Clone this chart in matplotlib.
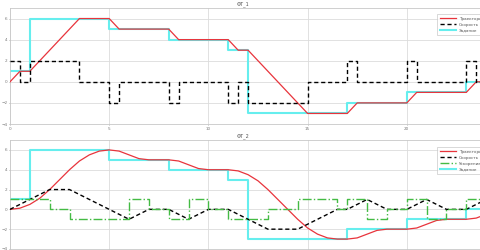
import numpy as np
import matplotlib
matplotlib.use('Agg')
import matplotlib.pyplot as plt

# ---- data ----
# ФТ_1
t1_pos = [0, 0.5, 1, 3.5, 5, 5.5, 8, 8.5, 11, 11.5, 12, 15, 17, 17.5, 20, 20.5, 23, 23.5, 25]
pos1 = [0, 1, 1, 6, 6, 5, 5, 4, 4, 3, 3, -3, -3, -2, -2, -1, -1, 0, 0]
t1_vel = [0, 0.5, 1, 3.5, 5, 5.5, 8, 8.5, 11, 11.5, 12, 15, 17, 17.5, 20, 20.5, 23, 23.5, 25]
vel1 = [2, 0, 2, 0, -2, 0, -2, 0, -2, 0, -2, 0, 2, 0, 2, 0, 2, 0, 0]

# target (same on both panels)
t_ref = [0, 1, 5, 8, 11, 12, 17, 20, 23, 25]
ref = [1, 6, 5, 4, 3, -3, -2, -1, 0, 0]

# ФТ_2
t2_pos = [0, 0.5, 1, 1.5, 2, 2.5, 3, 3.5, 4, 4.5, 5, 5.5, 6, 6.5, 7, 7.5, 8, 8.5,
          9, 9.5, 10, 10.5, 11, 11.5, 12, 12.5, 13, 13.5, 14, 14.5, 15, 15.5, 16,
          16.5, 17, 17.5, 18, 18.5, 19, 19.5, 20, 20.5, 21, 21.5, 22, 22.5, 23,
          23.5, 24]
pos2 = [0, 0.12, 0.5, 1.12, 2, 3, 4, 4.88, 5.5, 5.88, 6, 5.88, 5.5, 5.12, 5, 5, 5, 4.88,
        4.5, 4.12, 4, 4, 4, 3.88, 3.5, 2.88, 2, 1, 0, -1, -1.88, -2.5, -2.88,
        -3, -3, -2.88, -2.5, -2.12, -2, -2, -2, -1.88, -1.5, -1.12, -1, -1, -1,
        -0.88, -0.5]
t2_vel = [0, 2, 3, 6, 7, 8, 9, 10, 11, 13, 14.5, 16.5, 17, 18, 19, 20, 21, 22, 23, 24]
vel2 = [0, 2, 2, -1, 0, 0, -1, 0, 0, -2, -2, 0, 0, 1, 0, 0, 1, 0, 0, 1]
t2_acc = [0, 2, 3, 6, 7, 8, 9, 10, 11, 13, 14.5, 16.5, 17, 18, 19, 20, 21, 22, 23, 24, 25]
acc2 = [1, 0, -1, 1, 0, -1, 1, 0, -1, 0, 1, 0, 1, -1, 0, 1, -1, 0, 1, -1, -1]

c_red = '#e8343c'
c_cyan = '#66eeee'
c_green = '#44bb44'
fs = 3

fig = plt.figure(figsize=(4.8, 2.5), dpi=100)
ax1 = fig.add_axes([10/480, 1-124/250, 496/480, 116/250])
ax2 = fig.add_axes([10/480, 1-249/250, 496/480, 109/250])

ax1.plot(t1_pos, pos1, color=c_red, lw=0.9, label='Траектория движения', zorder=3)
ax1.plot(t1_vel, vel1, color='k', lw=1.0, dashes=(3, 2), drawstyle='steps-post',
         label='Скорость', zorder=3)
ax1.plot(t_ref, ref, color=c_cyan, lw=1.5, drawstyle='steps-post', label='Задание', zorder=2)

ax2.plot(t2_pos, pos2, color=c_red, lw=0.9, label='Траектория движения', zorder=3)
ax2.plot(t2_vel, vel2, color='k', lw=1.0, dashes=(3, 2), label='Скорость', zorder=3)
ax2.plot(t2_acc, acc2, color=c_green, lw=1.0, linestyle='-.', drawstyle='steps-post',
         label='Ускорение', zorder=3)
ax2.plot(t_ref, ref, color=c_cyan, lw=1.5, drawstyle='steps-post', label='Задание', zorder=2)

for ax, title, ly in [(ax1, 'ФТ_1', 0.966), (ax2, 'ФТ_2', 0.954)]:
    ax.set_xlim(0, 25)
    ax.set_ylim(-4, 7)
    ax.set_xticks([0, 5, 10, 15, 20, 25])
    ax.set_yticks([-4, -2, 0, 2, 4, 6])
    ax.grid(True, color='#dcdcdc', lw=0.6)
    ax.set_axisbelow(True)
    for s in ax.spines.values():
        s.set_color('#c8c8c8')
        s.set_linewidth(0.6)
    ax.tick_params(labelsize=fs, colors='#777777', length=1, width=0.4, pad=1)
    ax.text(0.47, 1.012, title, transform=ax.transAxes, ha='center', va='bottom',
            fontsize=fs + 0.5, color='#555555')
    leg = ax.legend(loc='upper left', bbox_to_anchor=(0.857, ly), fontsize=fs,
                    handlelength=4, handletextpad=0.6, frameon=True, fancybox=False,
                    borderpad=0.6, labelspacing=0.5)
    leg.get_frame().set_edgecolor('#bbbbbb')
    leg.get_frame().set_linewidth(0.5)
    for txt in leg.get_texts():
        txt.set_color('#555555')

fig.savefig('out.png', dpi=100)
